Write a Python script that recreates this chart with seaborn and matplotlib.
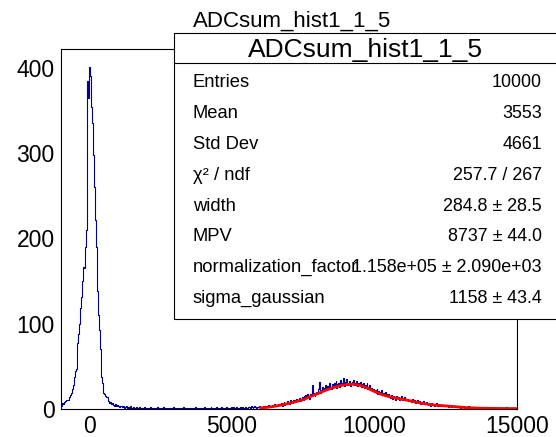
import numpy as np
import pandas as pd
import matplotlib
matplotlib.use("Agg")
import matplotlib.pyplot as plt
import seaborn as sns
from matplotlib.patches import Rectangle
from matplotlib.lines import Line2D

# ---------------- data ----------------
hist_title = "ADCsum_hist1_1_5"
x_min, x_max, n_bins = -1000, 15000, 500   # 32 ADC per bin

counts = [
    4, 7, 6, 8, 9, 9, 10, 11, 10, 14, 16, 19, 24, 28, 38, 44, 47, 60, 77, 88,
    100, 118, 131, 150, 167, 165, 190, 210, 240, 385, 365, 401, 390, 354, 335, 298, 260, 222, 190, 140,
    138, 110, 93, 70, 38, 30, 19, 18, 15, 14, 14, 10, 9, 7, 8, 6, 7, 5, 4, 6,
    3, 5, 3, 4, 2, 3, 4, 2, 3, 1, 2, 3, 1, 2, 2, 1, 3, 1, 0, 2,
    1, 1, 2, 0, 1, 1, 2, 0, 1, 1, 0, 2, 1, 0, 1, 1, 0, 1, 2, 0,
    1, 1, 0, 1, 1, 2, 1, 0, 1, 0, 1, 1, 2, 1, 0, 1, 0, 1, 1, 0,
    1, 0, 1, 2, 1, 0, 1, 1, 0, 1, 0, 1, 1, 0, 2, 1, 1, 0, 1, 0,
    1, 1, 0, 1, 1, 0, 1, 2, 0, 1, 1, 0, 1, 1, 0, 1, 1, 2, 1, 0,
    1, 1, 0, 1, 2, 1, 1, 0, 1, 1, 2, 1, 0, 1, 1, 2, 1, 1, 0, 1,
    1, 2, 1, 1, 0, 1, 2, 1, 1, 2, 0, 1, 2, 1, 1, 0, 2, 1, 1, 2,
    1, 1, 2, 1, 1, 2, 2, 1, 3, 2, 1, 2, 3, 2, 1, 2, 2, 3, 2, 1,
    2, 1, 3, 2, 4, 2, 3, 5, 2, 4, 3, 5, 4, 3, 6, 4, 5, 3, 6, 5,
    5, 7, 4, 6, 8, 5, 7, 6, 9, 7, 6, 10, 8, 7, 11, 8, 10, 9, 12, 9,
    10, 13, 9, 12, 14, 11, 15, 12, 16, 13, 17, 14, 12, 18, 15, 28, 16, 19, 15, 18,
    20, 17, 24, 32, 19, 22, 26, 21, 25, 23, 28, 22, 27, 24, 30, 25, 23, 29, 26, 31,
    27, 33, 25, 29, 31, 26, 34, 28, 30, 36, 27, 32, 29, 35, 28, 31, 33, 27, 30, 32,
    34, 28, 31, 29, 33, 27, 30, 28, 32, 26, 29, 31, 25, 28, 27, 30, 24, 26, 28, 23,
    25, 21, 24, 20, 22, 19, 23, 18, 21, 17, 20, 22, 16, 19, 17, 20, 15, 18, 16, 17,
    15, 13, 16, 12, 15, 14, 11, 15, 13, 12, 14, 11, 13, 15, 10, 12, 14, 11, 12, 10,
    12, 9, 11, 10, 8, 12, 9, 10, 7, 9, 11, 8, 7, 9, 6, 8, 7, 9, 6, 7,
    8, 6, 5, 7, 6, 4, 7, 5, 6, 4, 5, 7, 4, 5, 6, 3, 5, 4, 5, 3,
    5, 4, 3, 5, 2, 4, 3, 4, 2, 3, 4, 2, 3, 2, 4, 3, 2, 3, 1, 3,
    2, 3, 1, 2, 2, 1, 3, 2, 1, 2, 1, 2, 0, 2, 1, 1, 2, 1, 0, 1,
    1, 2, 1, 0, 1, 1, 2, 1, 0, 1, 1, 0, 1, 2, 1, 0, 1, 1, 0, 1,
    1, 0, 1, 1, 0, 1, 1, 0, 2, 1, 0, 1, 0, 1, 0, 1, 1, 0, 1, 0,
]

fit_x = [6000, 6250, 6500, 6750, 7000, 7250, 7500, 7750, 8000, 8250, 8500,
         8750, 9000, 9250, 9500, 9750, 10000, 10250, 10500, 10750, 11000,
         11250, 11500, 11750, 12000, 12250, 12500, 12750, 13000, 13250,
         13500, 13750, 14000, 14250, 14500, 14750, 15000]
fit_y = [1.2, 2.0, 3.2, 4.8, 6.6, 8.6, 11.0, 14.5, 18.0, 21.5, 24.5,
         27.0, 28.7, 29.0, 27.8, 24.5, 20.5, 17.0, 14.5, 12.8, 11.3,
         9.6, 7.8, 6.2, 5.0, 4.2, 3.6, 3.0, 2.2, 1.6,
         1.2, 0.9, 0.8, 0.7, 0.6, 0.5, 0.5]

x_ticks = [0, 5000, 10000, 15000]
y_ticks = [0, 100, 200, 300, 400]

stat_labels = ["Entries", "Mean", "Std Dev", "\u03c7\u00b2 / ndf", "width",
               "MPV", "normalization_factor", "sigma_gaussian"]
stat_values = ["10000", "3553", "4661", "257.7 / 267", "284.8 \u00b1 28.5",
               "8737 \u00b1 44.0", "1.158e+05 \u00b1 2.090e+03", "1158 \u00b1 43.4"]

# ---------------- figure ----------------
sns.set_theme(style="white")
plt.rcParams['font.family'] = ['Liberation Sans', 'DejaVu Sans']

W, H = 556, 437
fig = plt.figure(figsize=(W / 100, H / 100), dpi=100)
fig.patch.set_facecolor("white")

ax_l, ax_r, ax_t, ax_b = 61, 517, 49, 409
ax = fig.add_axes([ax_l / W, (H - ax_b) / H, (ax_r - ax_l) / W, (ax_b - ax_t) / H])

bin_w = (x_max - x_min) / n_bins
centers = [x_min + bin_w * (i + 0.5) for i in range(n_bins)]
df = pd.DataFrame({"adc": centers, "n": counts})

sns.histplot(data=df, x="adc", weights="n", binwidth=bin_w, binrange=(x_min, x_max),
             element="step", fill=False, color="#000099", linewidth=0.8, ax=ax)
sns.lineplot(x=fit_x, y=fit_y, color="#ff0000", linewidth=2.0, ax=ax, zorder=5)

ax.set_xlim(x_min, x_max)
ax.set_ylim(0, 422)
ax.set_xlabel("")
ax.set_ylabel("")
ax.set_xticks(x_ticks)
ax.set_yticks(y_ticks)
ax.set_xticklabels([str(t) for t in x_ticks])
ax.set_yticklabels([str(t) for t in y_ticks])
ax.tick_params(axis="both", direction="in", length=9, width=0.8, colors="black",
               labelsize=16.5, pad=4.5, top=False, right=False)
for s in ax.spines.values():
    s.set_color("black")
    s.set_linewidth(0.8)
    s.set_visible(True)
ax.grid(False)

def fy(py):
    return (H - py) / H

# title above the frame
fig.text(292 / W, fy(26.5), hist_title, ha="center", va="baseline",
         fontsize=16, color="black")

# stats box
bx0, bx1, by0, by1 = 174, 560, 33, 319
fig.add_artist(Rectangle((bx0 / W, fy(by1)), (bx1 - bx0) / W, (by1 - by0) / H,
                         transform=fig.transFigure, facecolor="white",
                         edgecolor="black", linewidth=0.8, zorder=10))
fig.add_artist(Line2D([bx0 / W, bx1 / W], [fy(63), fy(63)], transform=fig.transFigure,
                      color="black", linewidth=0.8, zorder=11))
fig.text(365 / W, fy(57.5), hist_title, ha="center", va="baseline",
         fontsize=19, color="black", zorder=12)

row_centers = [81, 112, 142.5, 173.5, 204.5, 235, 266, 297]
for lab, val, yc in zip(stat_labels, stat_values, row_centers):
    fig.text(193 / W, fy(yc + 6.3), lab, ha="left", va="baseline",
             fontsize=13.2, color="black", zorder=12)
    fig.text(542 / W, fy(yc + 6.3), val, ha="right", va="baseline",
             fontsize=12.9, color="black", zorder=12)

fig.savefig("out.png", dpi=100, facecolor="white")
